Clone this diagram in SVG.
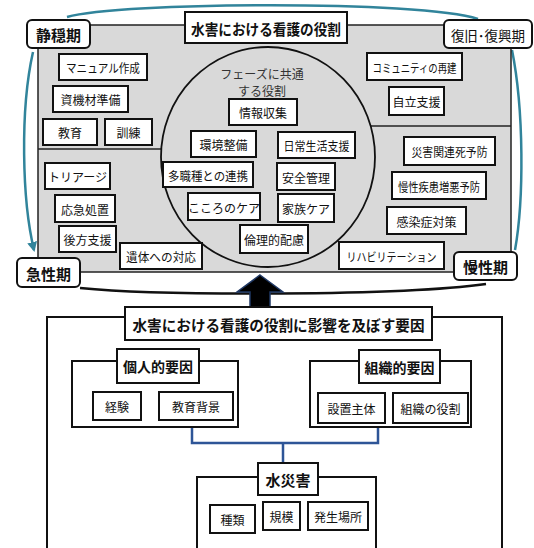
<svg xmlns="http://www.w3.org/2000/svg" width="534" height="548" viewBox="0 0 534 548">
<defs>
<style>
text{font-family:"Noto Sans CJK JP","Noto Sans",sans-serif;fill:#111;text-anchor:middle;dominant-baseline:central}
.b{fill:#fff;stroke:#111;stroke-width:2}
.lb{fill:#fff;stroke:#111;stroke-width:2}
.t{font-size:12px}
.h{font-size:15px;font-weight:bold}
.g{font-size:14px;font-weight:bold}
.cyc{fill:none;stroke:#31849b;stroke-width:2.5}
.ln{fill:none;stroke:#111;stroke-width:2}
</style>
<marker id="ah" viewBox="0 0 10 10" refX="8" refY="5" markerWidth="4" markerHeight="4" orient="auto">
<path d="M0,0 L10,5 L0,10 z" fill="#31849b"/>
</marker>
</defs>
<rect width="534" height="548" fill="#fff"/>

<g id="connectors">
<path class="cyc" d="M67,17 C120,2 420,0 478,19"/>
<path class="cyc" d="M512,50 C524,110 524,200 515,250"/>
<path class="cyc" d="M33,52 C20,110 22,200 34,250" marker-end="url(#ah)"/>
<path d="M486,284 C400,296 160,296 80,288" fill="none" stroke="#111" stroke-width="2.5"/>
<path d="M192,427 V443 H378 V427 M283,443 V463" fill="none" stroke="#2e5597" stroke-width="2.5"/>
<line x1="268" y1="43" x2="268" y2="47" class="ln" stroke-width="1.5"/>
<line x1="268" y1="267" x2="268" y2="272" class="ln" stroke-width="1.5"/>
</g>

<g id="role-panel">
<rect x="38" y="25" width="473" height="247" fill="#d9d9d9" stroke="#222" stroke-width="1.5"/>
<line x1="38" y1="149" x2="162" y2="149" stroke="#222" stroke-width="1.5"/>
<line x1="370" y1="126" x2="511" y2="126" stroke="#222" stroke-width="1.5"/>
<ellipse cx="268" cy="157" rx="107" ry="110" fill="#d9d9d9" stroke="#111" stroke-width="1.8"/>
</g>

<g id="title-role"><rect class="b" x="185" y="12" width="162" height="31"/><text class="h" x="266" y="28" textLength="150" lengthAdjust="spacingAndGlyphs">水害における看護の役割</text></g>

<g id="phase-seion"><rect class="lb" x="27" y="20" width="63" height="28" rx="5"/><text class="h" x="58.5" y="34.5">静穏期</text></g>
<g id="phase-fukkyu"><rect class="lb" x="444" y="20" width="88" height="28" rx="5"/><text x="488" y="34.5" style="font-size:13.5px">復旧･復興期</text></g>
<g id="phase-kyusei"><rect class="lb" x="17" y="258" width="63" height="29" rx="5"/><text class="h" x="48.5" y="273">急性期</text></g>
<g id="phase-mansei"><rect class="lb" x="454" y="252" width="63" height="28" rx="5"/><text class="h" x="485.5" y="266.5">慢性期</text></g>

<g id="common-label"><text x="262" y="73" style="font-size:12px;fill:#333">フェーズに共通</text><text x="262" y="90" style="font-size:12px;fill:#333">する役割</text></g>

<g id="n-joho"><rect class="b" x="229" y="99" width="68" height="26"/><text class="t" x="263" y="112.5">情報収集</text></g>
<g id="n-kankyo"><rect class="b" x="191" y="131" width="65" height="26"/><text class="t" x="223.5" y="144.5">環境整備</text></g>
<g id="n-nichijo"><rect class="b" x="278" y="132" width="77" height="26"/><text class="t" x="316.5" y="145.5" textLength="66" lengthAdjust="spacingAndGlyphs">日常生活支援</text></g>
<g id="n-tashoku"><rect class="b" x="163" y="162" width="90" height="25"/><text class="t" x="208" y="175" textLength="80" lengthAdjust="spacingAndGlyphs">多職種との連携</text></g>
<g id="n-anzen"><rect class="b" x="277" y="163" width="58" height="27"/><text class="t" x="306" y="177">安全管理</text></g>
<g id="n-kokoro"><rect class="b" x="188" y="193" width="72" height="27"/><text class="t" x="224" y="207">こころのケア</text></g>
<g id="n-kazoku"><rect class="b" x="278" y="194" width="56" height="28"/><text class="t" x="306" y="208.5">家族ケア</text></g>
<g id="n-rinri"><rect class="b" x="240" y="225" width="68" height="28"/><text class="t" x="274" y="239.5">倫理的配慮</text></g>

<g id="n-manual"><rect class="b" x="59" y="54" width="88" height="26"/><text class="t" x="103" y="67.5" textLength="74" lengthAdjust="spacingAndGlyphs">マニュアル作成</text></g>
<g id="n-shikizai"><rect class="b" x="53" y="86" width="75" height="26"/><text class="t" x="90.5" y="99.5">資機材準備</text></g>
<g id="n-kyoiku"><rect class="b" x="43" y="119" width="54" height="26"/><text class="t" x="70" y="132.5">教育</text></g>
<g id="n-kunren"><rect class="b" x="105" y="119" width="47" height="26"/><text class="t" x="128.5" y="132.5">訓練</text></g>

<g id="n-triage"><rect class="b" x="45" y="163" width="65" height="26"/><text class="t" x="77.5" y="176.5">トリアージ</text></g>
<g id="n-okyu"><rect class="b" x="55" y="195" width="60" height="27"/><text class="t" x="85" y="209">応急処置</text></g>
<g id="n-koho"><rect class="b" x="59" y="226" width="57" height="26"/><text class="t" x="87.5" y="239.5">後方支援</text></g>
<g id="n-itai"><rect class="b" x="120" y="243" width="82" height="26"/><text class="t" x="161" y="256.5" textLength="70" lengthAdjust="spacingAndGlyphs">遺体への対応</text></g>

<g id="n-community"><rect class="b" x="367" y="53" width="95" height="27"/><text class="t" x="414.5" y="67" textLength="84" lengthAdjust="spacingAndGlyphs">コミュニティの再建</text></g>
<g id="n-jiritsu"><rect class="b" x="389" y="87" width="55" height="28"/><text class="t" x="416.5" y="101.5">自立支援</text></g>

<g id="n-kanrenshi"><rect class="b" x="404" y="137" width="91" height="28"/><text class="t" x="449.5" y="151.5" textLength="76" lengthAdjust="spacingAndGlyphs">災害関連死予防</text></g>
<g id="n-manseishikkan"><rect class="b" x="392" y="172" width="94" height="27"/><text class="t" x="439" y="186" textLength="82" lengthAdjust="spacingAndGlyphs">慢性疾患増悪予防</text></g>
<g id="n-kansen"><rect class="b" x="387" y="207" width="79" height="27"/><text class="t" x="426.5" y="221">感染症対策</text></g>
<g id="n-rehab"><rect class="b" x="339" y="242" width="105" height="27"/><text class="t" x="391.5" y="256" textLength="90" lengthAdjust="spacingAndGlyphs">リハビリテーション</text></g>

<g id="big-arrow"><polygon points="260,275 283,292 270,292 270,308 250,308 250,292 237,292" fill="#000" stroke="#1f3864" stroke-width="1.5"/></g>

<g id="factors-frame"><path d="M125,317 H47 V550 M432,317 H502 V550" class="ln"/></g>
<g id="title-factors"><rect class="b" x="125" y="307" width="307" height="33"/><text class="h" x="278.5" y="324" textLength="292" lengthAdjust="spacingAndGlyphs">水害における看護の役割に影響を及ぼす要因</text></g>

<g id="g-kojin"><rect class="b" x="72" y="361" width="166" height="66"/>
<rect class="b" x="117" y="349" width="82" height="34"/><text class="g" x="158" y="366">個人的要因</text></g>
<g id="n-keiken"><rect class="b" x="93" y="392" width="48" height="28"/><text class="t" x="117" y="406.5">経験</text></g>
<g id="n-kyoikuhaikei"><rect class="b" x="159" y="392" width="74" height="28"/><text class="t" x="196" y="406.5">教育背景</text></g>

<g id="g-soshiki"><rect class="b" x="310" y="361" width="161" height="66"/>
<rect class="b" x="359" y="350" width="81" height="33"/><text class="g" x="399.5" y="366.5">組織的要因</text></g>
<g id="n-setchi"><rect class="b" x="318" y="393" width="67" height="30"/><text class="t" x="351.5" y="408.5">設置主体</text></g>
<g id="n-yakuwari"><rect class="b" x="393" y="393" width="75" height="30"/><text class="t" x="430.5" y="408.5">組織の役割</text></g>

<g id="g-suisaigai"><rect class="b" x="197" y="477" width="179" height="72"/>
<rect class="b" x="258" y="463" width="60" height="32"/><text class="g" x="288" y="479" style="font-size:15px">水災害</text></g>
<g id="n-shurui"><rect class="b" x="210" y="505" width="45" height="28"/><text class="t" x="232.5" y="519.5">種類</text></g>
<g id="n-kibo"><rect class="b" x="263" y="502" width="37" height="28"/><text class="t" x="281.5" y="516.5">規模</text></g>
<g id="n-hassei"><rect class="b" x="308" y="502" width="60" height="28"/><text class="t" x="338" y="516.5">発生場所</text></g>
</svg>
